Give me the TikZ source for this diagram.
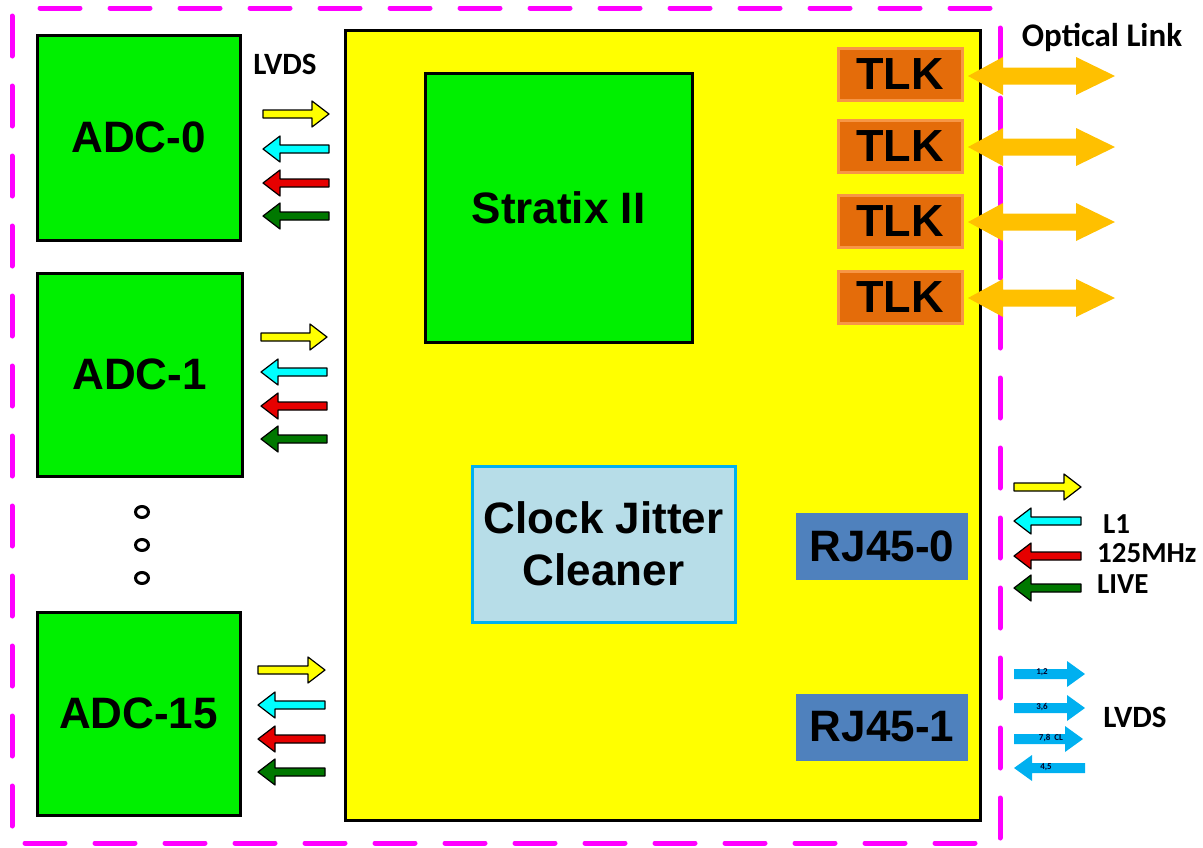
\documentclass[tikz,border=0pt]{standalone}
\usepackage{fontspec}
\setmainfont{Liberation Sans}
\newfontfamily\calfont{Carlito}
\usetikzlibrary{positioning}

\definecolor{chipgreen}{RGB}{0,240,0}
\definecolor{boardyellow}{RGB}{255,255,0}
\definecolor{tlkorange}{RGB}{228,108,10}
\definecolor{tlkedge}{RGB}{247,150,70}
\definecolor{rjblue}{RGB}{79,129,189}
\definecolor{cjcfill}{RGB}{183,221,232}
\definecolor{cjcedge}{RGB}{0,176,240}
\definecolor{optorange}{RGB}{255,192,0}
\definecolor{lvdsblue}{RGB}{0,176,240}
\definecolor{framemag}{RGB}{255,0,255}
\definecolor{sigyellow}{RGB}{255,255,0}
\definecolor{sigcyan}{RGB}{0,255,255}
\definecolor{sigred}{RGB}{230,0,0}
\definecolor{siggreen}{RGB}{0,120,0}

% outlined block arrow: fill colour, tail x, tip x, y
\newcommand{\sigarrow}[4]{%
  \pgfmathsetmacro{\hb}{#3-17*sign(#3-#2)}%
  \draw[sigline, fill=#1] (#2,#4-4) -- (\hb,#4-4) -- (\hb,#4-13) -- (#3,#4)
    -- (\hb,#4+13) -- (\hb,#4+4) -- (#2,#4+4) -- cycle;}
% plain blue arrow: tail x, tip x, y
\newcommand{\lvdsarrow}[3]{%
  \pgfmathsetmacro{\hb}{#2-18*sign(#2-#1)}%
  \fill[lvdsblue] (#1,#3-5) -- (\hb,#3-5) -- (\hb,#3-13) -- (#2,#3)
    -- (\hb,#3+13) -- (\hb,#3+5) -- (#1,#3+5) -- cycle;}
% optical link double arrow at height y
\newcommand{\optarrow}[1]{%
  \fill[optorange] (968,#1) -- (1003,#1-19) -- (1003,#1-8.5) -- (1076,#1-8.5)
    -- (1076,#1-19) -- (1115,#1) -- (1076,#1+19) -- (1076,#1+8.5)
    -- (1003,#1+8.5) -- (1003,#1+19) -- cycle;}

\begin{document}
\begin{tikzpicture}[x=1pt, y=-1pt,
  chip/.style={draw=black, line width=3pt, fill=chipgreen, inner sep=0pt,
    font=\fontsize{44}{52}\selectfont\bfseries, align=center},
  tlkbox/.style={draw=tlkedge, line width=3pt, fill=tlkorange, inner sep=0pt,
    minimum width=124, minimum height=52, font=\fontsize{45}{52}\selectfont\bfseries},
  rjbox/.style={fill=rjblue, inner sep=0pt, minimum width=172, minimum height=67,
    font=\fontsize{44}{52}\selectfont\bfseries},
  sigline/.style={draw=black, line width=1.2pt, line join=round},
  lbl/.style={font=\calfont\fontsize{29}{32}\selectfont\bfseries, inner sep=0pt},
  tiny/.style={font=\calfont\fontsize{9}{10}\selectfont\bfseries, text=black!85!blue, inner sep=0pt}]
  \useasboundingbox (0,0) rectangle (1203,847);
  % board outline
  \draw[framemag, line width=5pt, line cap=round, dash pattern=on 40pt off 30pt, dash phase=-8pt]
    (12,8) rectangle (1000,843);
  % ADC chips
  \node[chip, minimum width=203, minimum height=205] (adc0) at (138.5,137.5) {ADC-0};
  \node[chip, minimum width=205, minimum height=203] (adc1) at (139.5,374.5) {ADC-1};
  \node[chip, minimum width=203, minimum height=203] (adc15) at (138.5,713.5) {ADC-15};
  \draw[line width=3pt] (142,512) circle[x radius=6.5, y radius=5.5];
  \draw[line width=3pt] (142,545) circle[x radius=6.5, y radius=5.5];
  \draw[line width=3pt] (142,578) circle[x radius=6.5, y radius=5.5];
  % main board
  \node[draw=black, line width=3pt, fill=boardyellow, minimum width=635, minimum height=790]
    (board) at (662.5,425) {};
  \node[chip, minimum width=267, minimum height=269] (stratix) at (558.5,207.5) {Stratix II};
  \node[chip, fill=cjcfill, draw=cjcedge, minimum width=263, minimum height=156]
    (cjc) at (603.5,544) {Clock Jitter\\Cleaner};
  \node[tlkbox] (tlk0) at (900,74) {TLK};
  \node[tlkbox] (tlk1) at (900,146) {TLK};
  \node[tlkbox] (tlk2) at (900,221) {TLK};
  \node[tlkbox] (tlk3) at (900,297) {TLK};
  \node[rjbox] (rj0) at (882,546.5) {RJ45-0};
  \node[rjbox] (rj1) at (882,727) {RJ45-1};
  % optical links
  \optarrow{76}
  \optarrow{147}
  \optarrow{222}
  \optarrow{298}
  \node[lbl, font=\calfont\fontsize{33}{36}\selectfont\bfseries] (optlbl) at (1102,37) {Optical Link};
  % LVDS lines of each ADC
  \node[lbl, font=\calfont\fontsize{31}{34}\selectfont\bfseries] (lvds0) at (285,64) {LVDS};
  \sigarrow{sigyellow}{263}{329}{114}
  \sigarrow{sigcyan}{329}{263}{149}
  \sigarrow{sigred}{329}{263}{183}
  \sigarrow{siggreen}{329}{263}{216}
  \sigarrow{sigyellow}{261}{327}{337}
  \sigarrow{sigcyan}{327}{261}{372}
  \sigarrow{sigred}{327}{261}{406}
  \sigarrow{siggreen}{327}{261}{439}
  \sigarrow{sigyellow}{258}{325}{670}
  \sigarrow{sigcyan}{325}{258}{705}
  \sigarrow{sigred}{325}{258}{739}
  \sigarrow{siggreen}{325}{258}{772}
  % RJ45-0 lines
  \sigarrow{sigyellow}{1014}{1081}{487}
  \sigarrow{sigcyan}{1081}{1014}{521}
  \sigarrow{sigred}{1081}{1014}{556}
  \sigarrow{siggreen}{1081}{1014}{588}
  \node[lbl, anchor=west] (l1) at (1103,524) {L1};
  \node[lbl, anchor=west] (clk) at (1097,553) {125MHz};
  \node[lbl, anchor=west] (live) at (1097,584) {LIVE};
  % RJ45-1 lines
  \lvdsarrow{1014}{1085}{674}
  \lvdsarrow{1014}{1085}{708}
  \lvdsarrow{1014}{1083}{739}
  \lvdsarrow{1085}{1014}{768}
  \node[tiny] (p12) at (1042,672) {1,2};
  \node[tiny] (p36) at (1042,707) {3,6};
  \node[tiny] (p78) at (1051,738) {7,8\ \ CL};
  \node[tiny] (p45) at (1046,767) {4,5};
  \node[lbl, font=\calfont\fontsize{31}{34}\selectfont\bfseries] (lvds1) at (1135,717) {LVDS};
\end{tikzpicture}
\end{document}
